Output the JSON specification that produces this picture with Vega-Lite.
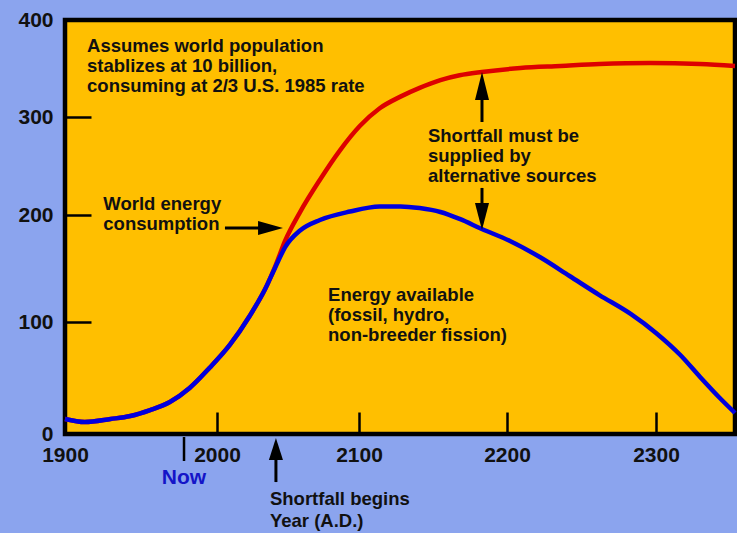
{
  "$schema": "https://vega.github.io/schema/vega-lite/v6.json",
  "width": 670,
  "height": 414,
  "autosize": "none",
  "padding": {"left": 65, "top": 20, "right": 2, "bottom": 99},
  "background": "#8BA4EE",
  "config": {
    "view": {"fill": "#FFBF00", "stroke": "#000000", "strokeWidth": 4.5},
    "font": "Liberation Sans",
    "axis": {"grid": false, "domain": false, "labelFont": "Liberation Sans", "labelFontWeight": "bold", "labelFontSize": 21, "labelColor": "#111111", "tickColor": "#000000", "tickWidth": 2.5, "title": null, "labelOverlap": false, "labelFlush": false},
    "text": {"font": "Liberation Sans", "fontWeight": "bold", "fontSize": 18.5, "color": "#111111", "align": "left", "baseline": "alphabetic", "lineHeight": 20}
  },
  "datasets": {
    "consumption": [
      {"year": 1900, "value": 13.4}, {"year": 1913, "value": 10.7}, {"year": 1930, "value": 13.4},
      {"year": 1943, "value": 16.1}, {"year": 1956, "value": 21.4}, {"year": 1969, "value": 28.6},
      {"year": 1982, "value": 41.1}, {"year": 1995, "value": 58.9}, {"year": 2009, "value": 79.5},
      {"year": 2023, "value": 105.6}, {"year": 2034, "value": 131}, {"year": 2041, "value": 152},
      {"year": 2048, "value": 176}, {"year": 2058.5, "value": 203}, {"year": 2072.5, "value": 236},
      {"year": 2086.6, "value": 266}, {"year": 2100.7, "value": 291}, {"year": 2114, "value": 309},
      {"year": 2128, "value": 321}, {"year": 2141, "value": 330}, {"year": 2155, "value": 338},
      {"year": 2168, "value": 343}, {"year": 2183, "value": 346.4}, {"year": 2209, "value": 350.5},
      {"year": 2236, "value": 352.6}, {"year": 2262, "value": 354.6}, {"year": 2296, "value": 355.7},
      {"year": 2329, "value": 354.6}, {"year": 2352, "value": 352.6}
    ],
    "available": [
      {"year": 1900, "value": 13.4}, {"year": 1913, "value": 10.7}, {"year": 1930, "value": 13.4},
      {"year": 1943, "value": 16.1}, {"year": 1956, "value": 21.4}, {"year": 1969, "value": 28.6},
      {"year": 1982, "value": 41.1}, {"year": 1995, "value": 58.9}, {"year": 2009, "value": 79.5},
      {"year": 2023, "value": 105.6}, {"year": 2034, "value": 131}, {"year": 2041, "value": 151},
      {"year": 2048, "value": 170}, {"year": 2058.5, "value": 185.5}, {"year": 2072.5, "value": 195.3},
      {"year": 2093.6, "value": 203.5}, {"year": 2114, "value": 208.6},
      {"year": 2128, "value": 208.8}, {"year": 2141, "value": 207.1}, {"year": 2155, "value": 203.1},
      {"year": 2168, "value": 196.3}, {"year": 2183, "value": 186.9}, {"year": 2202, "value": 175.7},
      {"year": 2222, "value": 160.7}, {"year": 2242, "value": 143}, {"year": 2262, "value": 125.2},
      {"year": 2283, "value": 107.5}, {"year": 2300, "value": 90.2}, {"year": 2316, "value": 70.5},
      {"year": 2329, "value": 50.9}, {"year": 2342, "value": 32.1}, {"year": 2352, "value": 18.75}
    ]
  },
  "encoding": {
    "x": {"field": "year", "type": "quantitative",
      "scale": {"domain": [1900, 2000, 2100, 2200, 2300, 2352], "range": [0, 152, 294, 442, 591, 670], "zero": false, "nice": false},
      "axis": {"values": [1900, 2000, 2100, 2200, 2300], "tickSize": -22, "labelPadding": 32, "format": "d"}},
    "y": {"field": "value", "type": "quantitative",
      "scale": {"domain": [0, 100, 200, 300, 400], "range": [414, 302, 195, 97, 0], "zero": false, "nice": false},
      "axis": {"values": [0, 100, 200, 300, 400], "tickSize": -26, "labelPadding": 38}}
  },
  "layer": [
    {"data": {"name": "consumption"}, "mark": {"type": "line", "color": "#DD0000", "strokeWidth": 4.5, "interpolate": "monotone"}},
    {"data": {"name": "available"}, "mark": {"type": "line", "color": "#0000DD", "strokeWidth": 4.5, "interpolate": "monotone"}},
    {"data": {"values": [{"year": 2005.6, "year2": 2031, "value": 187.9}]},
      "mark": {"type": "rule", "color": "#000000", "strokeWidth": 3},
      "encoding": {"x2": {"field": "year2"}}},
    {"data": {"values": [
        {"year": 2183.1, "value": 294.9, "value2": 318},
        {"year": 2183.1, "value": 227.6, "value2": 209},
        {"year": 2041.5, "value": -42.9, "value2": -23}
      ]},
      "mark": {"type": "rule", "color": "#000000", "strokeWidth": 3},
      "encoding": {"y2": {"field": "value2"}}},
    {"data": {"values": [{"year": 1978.3, "value": -2.7, "value2": -24.1}]},
      "mark": {"type": "rule", "color": "#000000", "strokeWidth": 2.5},
      "encoding": {"y2": {"field": "value2"}}},
    {"data": {"values": [{"year": 2037.7, "value": 187.9}]},
      "mark": {"type": "point", "shape": "M-1,-0.56L1,0L-1,0.56Z", "size": 625, "filled": true, "color": "#000000", "opacity": 1}},
    {"data": {"values": [{"year": 2183.1, "value": 332}]},
      "mark": {"type": "point", "shape": "M0,-1L0.5,1L-0.5,1Z", "size": 784, "filled": true, "color": "#000000", "opacity": 1}},
    {"data": {"values": [{"year": 2183.1, "value": 198.6}]},
      "mark": {"type": "point", "shape": "M0,1L0.52,-1L-0.52,-1Z", "size": 729, "filled": true, "color": "#000000", "opacity": 1}},
    {"data": {"values": [{"year": 2041.5, "value": -13.4}]},
      "mark": {"type": "point", "shape": "M0,-1L0.64,1L-0.64,1Z", "size": 484, "filled": true, "color": "#000000", "opacity": 1}},
    {"data": {"values": [
        {"year": 1914.5, "value": 367, "label": ["Assumes world population", "stablizes at 10 billion,", "consuming at 2/3 U.S. 1985 rate"]},
        {"year": 1925.2, "value": 205.1, "label": ["World energy", "consumption"]},
        {"year": 2078.2, "value": 119.6, "label": ["Energy available", "(fossil, hydro,", "non-breeder fission)"]},
        {"year": 2146.6, "value": 274.5, "label": ["Shortfall must be", "supplied by", "alternative sources"]}
      ]},
      "mark": {"type": "text"},
      "encoding": {"text": {"field": "label", "type": "nominal"}}},
    {"data": {"values": [{"year": 2037.3, "value": -63.4, "label": ["Shortfall begins", "Year (A.D.)"]}]},
      "mark": {"type": "text", "lineHeight": 22},
      "encoding": {"text": {"field": "label", "type": "nominal"}}},
    {"data": {"values": [{"year": 1978.3, "value": -39.3, "label": "Now"}]},
      "mark": {"type": "text", "align": "center", "baseline": "middle", "fontSize": 21, "color": "#1414C8"},
      "encoding": {"text": {"field": "label", "type": "nominal"}}}
  ]
}
